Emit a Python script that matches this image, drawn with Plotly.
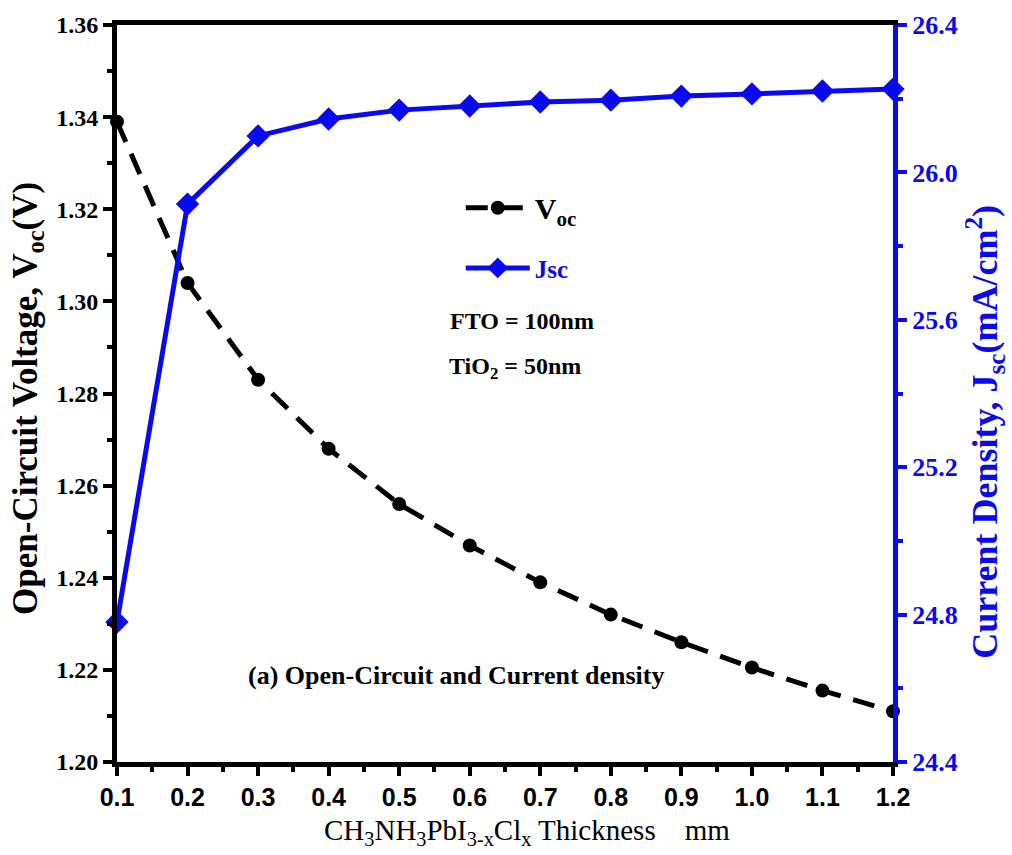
import plotly.graph_objects as go

# Absorber thickness sweep
thickness = [0.1, 0.2, 0.3, 0.4, 0.5, 0.6, 0.7, 0.8, 0.9, 1.0, 1.1, 1.2]
voc = [1.339, 1.304, 1.283, 1.268, 1.256, 1.247, 1.239, 1.232, 1.226, 1.2205, 1.2155, 1.211]
jsc = [24.78, 25.914, 26.099, 26.145, 26.169, 26.180, 26.191, 26.196, 26.207, 26.213, 26.221, 26.226]

x_ticks = [0.1, 0.2, 0.3, 0.4, 0.5, 0.6, 0.7, 0.8, 0.9, 1.0, 1.1, 1.2]
x_ticklabels = ["0.1", "0.2", "0.3", "0.4", "0.5", "0.6", "0.7", "0.8", "0.9", "1.0", "1.1", "1.2"]

BLUE = "#0a0af0"
SERIF = "Liberation Serif"
SANS = "Liberation Sans"

fig = go.Figure()

fig.add_trace(go.Scatter(
    x=thickness, y=voc, name="V<sub>oc</sub>", mode="lines+markers",
    line=dict(color="black", width=5, dash="22px,13px"),
    marker=dict(symbol="circle", size=14, color="black"),
    legend="legend", showlegend=True, cliponaxis=False,
))
fig.add_trace(go.Scatter(
    x=thickness, y=jsc, name="Jsc", mode="lines+markers", yaxis="y2",
    line=dict(color=BLUE, width=5),
    marker=dict(symbol="diamond", size=18, color=BLUE),
    legend="legend2", showlegend=True, cliponaxis=False,
))

tick_style = dict(ticks="outside", ticklen=9, tickwidth=4)

fig.update_layout(
    width=1012, height=855,
    margin=dict(l=117, r=119, t=25, b=93),
    plot_bgcolor="white", paper_bgcolor="white",
    showlegend=True,
    xaxis=dict(
        range=[0.1, 1.2], tickvals=x_ticks, ticktext=x_ticklabels,
        showline=True, linecolor="black", linewidth=5, mirror=True,
        tickcolor="black", **tick_style,
        minor=dict(dtick=0.05, ticks="outside", ticklen=5, tickwidth=4, tickcolor="black"),
        showgrid=False, zeroline=False,
        tickfont=dict(family=SANS, size=25, color="black", weight="bold"),
    ),
    yaxis=dict(
        range=[1.20, 1.36], dtick=0.02, tickformat=".2f",
        showline=True, linecolor="black", linewidth=5,
        tickcolor="black", **tick_style,
        minor=dict(dtick=0.01, ticks="outside", ticklen=5, tickwidth=4, tickcolor="black"),
        showgrid=False, zeroline=False,
        tickfont=dict(family=SERIF, size=24, color="black", weight="bold"),
    ),
    yaxis2=dict(
        overlaying="y", side="right",
        range=[24.4, 26.4], dtick=0.4, tickformat=".1f",
        showline=True, linecolor=BLUE, linewidth=5,
        tickcolor=BLUE, **tick_style,
        minor=dict(dtick=0.2, ticks="outside", ticklen=5, tickwidth=4, tickcolor=BLUE),
        showgrid=False, zeroline=False,
        tickfont=dict(family=SERIF, size=26, color=BLUE, weight="bold"),
    ),
    legend=dict(
        x=0.443, y=0.752, xanchor="left", yanchor="middle", itemwidth=64,
        bgcolor="rgba(0,0,0,0)", borderwidth=0,
        font=dict(family=SERIF, size=30, color="black", weight="bold"),
    ),
    legend2=dict(
        x=0.443, y=0.670, xanchor="left", yanchor="middle", itemwidth=64,
        bgcolor="rgba(0,0,0,0)", borderwidth=0,
        font=dict(family=SERIF, size=25, color=BLUE, weight="bold"),
    ),
    annotations=[
        # axis titles
        dict(text="CH<sub>3</sub>NH<sub>3</sub>PbI<sub>3-x</sub>Cl<sub>x</sub> Thickness    mm",
             x=0.528, y=-0.095, xref="paper", yref="paper", showarrow=False,
             xanchor="center", yanchor="middle",
             font=dict(family=SERIF, size=29, color="black")),
        dict(text="Open-Circuit Voltage, V<sub>oc</sub>(V)", textangle=-90,
             x=-0.1147, y=0.494, xref="paper", yref="paper", showarrow=False,
             xanchor="center", yanchor="middle",
             font=dict(family=SERIF, size=35, color="black", weight="bold")),
        dict(text="Current Density, J<sub>sc</sub>(mA/cm<sup>2</sup>)", textangle=-90,
             x=1.1186, y=0.448, xref="paper", yref="paper", showarrow=False,
             xanchor="center", yanchor="middle",
             font=dict(family=SERIF, size=36, color=BLUE, weight="bold")),
        # in-plot notes
        dict(text="FTO = 100nm", x=0.522, y=0.598, xref="paper", yref="paper",
             showarrow=False, font=dict(family=SERIF, size=24, color="black", weight="bold")),
        dict(text="TiO<sub>2</sub> = 50nm", x=0.513, y=0.535, xref="paper", yref="paper",
             showarrow=False, font=dict(family=SERIF, size=24, color="black", weight="bold")),
        dict(text="(a) Open-Circuit and Current density", x=0.438, y=0.095,
             xref="paper", yref="paper", showarrow=False,
             font=dict(family=SERIF, size=26, color="black", weight="bold")),
    ],
)

fig.write_html("out.html")
